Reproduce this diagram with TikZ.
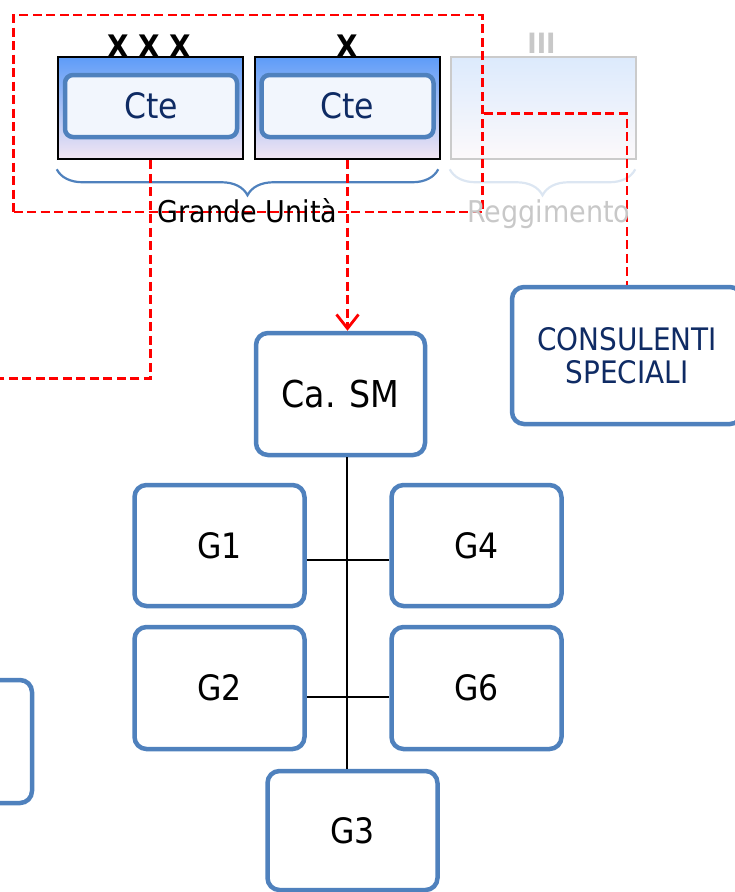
\documentclass[tikz,border=0pt]{standalone}
\usepackage{fontspec}
\setmainfont{DejaVu Sans Condensed}
\usetikzlibrary{arrows.meta,decorations.pathreplacing,calc}
\definecolor{bord}{HTML}{4F81BD}
\definecolor{navy}{HTML}{0F2B64}
\definecolor{rd}{HTML}{FF0000}
\definecolor{gr}{HTML}{C8C8C8}
\definecolor{grb}{HTML}{CBCBCB}
\definecolor{brc}{HTML}{DCE6F2}
\definecolor{ubtop}{HTML}{5E9CF8}
\definecolor{ubbot}{HTML}{F3E6F3}
\definecolor{rgtop}{HTML}{DCEAFC}
\definecolor{rgbot}{HTML}{FCF9FB}
\definecolor{ctefill}{HTML}{F2F6FD}
\begin{document}
\begin{tikzpicture}[x=1pt,y=-1pt,
  box/.style={draw=bord,line width=4.5pt,rounded corners=12pt,fill=white,
    minimum width=170pt,minimum height=121pt,inner sep=0pt,
    font=\fontsize{35}{40}\selectfont},
  unitbox/.style={draw=black,line width=2.5pt,minimum width=185pt,minimum height=102pt,
    inner sep=0pt,top color=ubtop,bottom color=ubbot},
  regbox/.style={draw=grb,line width=2.5pt,minimum width=185pt,minimum height=102pt,
    inner sep=0pt,top color=rgtop,bottom color=rgbot},
  ctebox/.style={draw=bord,line width=4.5pt,rounded corners=8pt,fill=ctefill,
    minimum width=172pt,minimum height=62pt,inner sep=0pt,text=navy,
    font=\fontsize{35}{40}\selectfont},
  reddash/.style={draw=rd,line width=2.8pt,dash pattern=on 9pt off 4.5pt},
  conn/.style={draw=black,line width=2.2pt},
  lbl/.style={font=\fontsize{30}{34}\selectfont,anchor=base,inner sep=0pt},
  echelon/.style={font=\fontsize{31}{34}\bfseries\selectfont,anchor=base,inner sep=0pt}
]
\useasboundingbox (0,0) rectangle (735,892);

% unit boxes
\node[unitbox] (b1) at (150.5,108) {};
\node[unitbox] (b2) at (347.5,108) {};
\node[regbox]  (b3) at (543.5,108) {};
\node[ctebox] (c1) at (151,106) {Cte};
\node[ctebox] (c2) at (347.5,106) {Cte};

% echelon marks
\node[echelon] (e1) at (149,57) {X X X};
\node[echelon] (e2) at (347,57) {X};
\node[echelon,text=gr,font=\fontsize{28}{30}\bfseries\selectfont] (e3) at (541.5,53) {III};

% braces
\draw[decorate,decoration={brace,mirror,amplitude=26pt},draw=bord,line width=2.2pt]
  ([yshift=-9pt]b1.south west) -- ([yshift=-9pt,xshift=-3pt]b2.south east);
\draw[decorate,decoration={brace,mirror,amplitude=26pt},draw=brc,line width=2.2pt]
  ([yshift=-9pt]b3.south west) -- ([yshift=-9pt,xshift=-2pt]b3.south east);

% organisation boxes
\node[box,minimum width=169pt,minimum height=122pt,font=\fontsize{37}{40}\selectfont] (cam) at (340.5,394) {Ca. SM};
\node[box,minimum width=230pt,minimum height=137pt,text=navy,align=center,
  font=\fontsize{31}{33}\selectfont] (cons) at (627,355.5) {CONSULENTI\\SPECIALI};
\node[box] (g1) at (219.5,545.5) {G1};
\node[box] (g4) at (476.5,545.5) {G4};
\node[box,minimum height=122pt] (g2) at (219.5,688) {G2};
\node[box,minimum height=122pt] (g6) at (476.5,688) {G6};
\node[box,minimum height=119pt] (g3) at (352.5,830.5) {G3};
\node[box,minimum height=123pt] (gx) at (-53,741.5) {};

% black connectors
\coordinate (vtop) at ([xshift=6.5pt]cam.south);
\draw[conn] (vtop) -- (vtop |- g3.north);
\draw[conn] ([yshift=-14.5pt]g1.east) -- ([yshift=-14.5pt]g4.west);
\draw[conn] ([yshift=-9pt]g2.east) -- ([yshift=-9pt]g6.west);

% red dashed
\node[reddash,minimum width=469pt,minimum height=197pt,inner sep=0pt] (grp) at (248,113.5) {};
\coordinate (lend) at (-5,378.5);
\draw[reddash] (b1.south) |- (lend);
\draw[reddash,-{Straight Barb[length=14pt,width=22pt]}] (b2.south) -- (b2.south |- cam.north);
\draw[reddash] (grp.east) -| (cons.north);

% labels
\node[lbl] (gu) at (247.5,222) {Grande Unità};
\node[lbl,text=gr] (rg) at (549,222) {Reggimento};
\end{tikzpicture}
\end{document}
